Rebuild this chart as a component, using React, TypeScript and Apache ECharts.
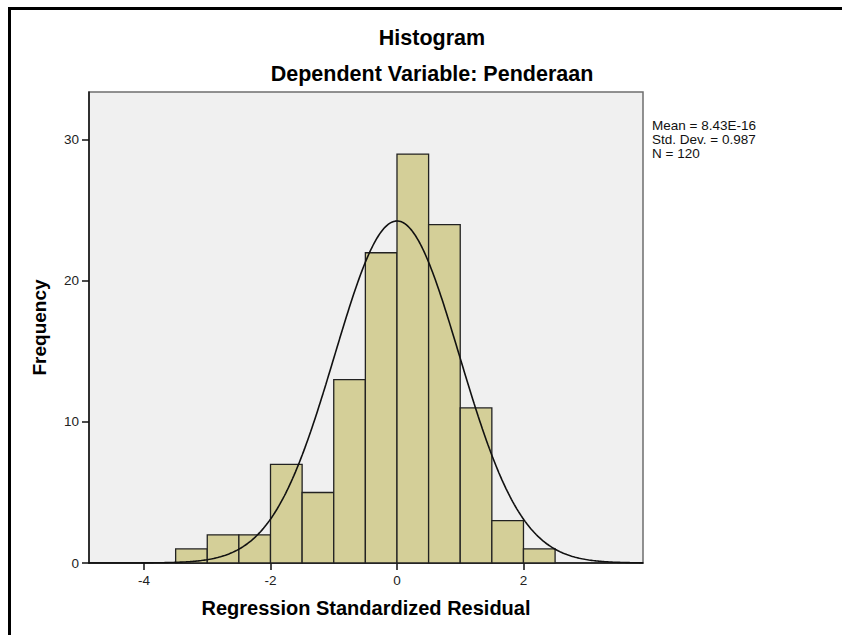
import React, { useEffect, useRef } from "react";
import * as echarts from "echarts";

const titleText = "Histogram";
const subtitleText = "Dependent Variable: Penderaan";
const xAxisName = "Regression Standardized Residual";
const yAxisName = "Frequency";

// histogram bins (lower edges) and counts
const binWidth = 0.5;
const binStarts = [-3.5, -3.0, -2.5, -2.0, -1.5, -1.0, -0.5, 0.0, 0.5, 1.0, 1.5, 2.0];
const frequencies = [1, 2, 2, 7, 5, 13, 22, 29, 24, 11, 3, 1];

// fitted normal statistics (as printed on the chart)
const meanValue = 8.43e-16;
const stdDev = 0.987;
const nCount = 120;
const statsLines = ["Mean = 8.43E-16", "Std. Dev. = 0.987", "N = 120"];

const xTicks = [-4, -2, 0, 2];
const yTicks = [0, 10, 20, 30];
const xMin = -4.87;
const xMax = 3.89;
const yMax = 33.4;

const FONT = "'Liberation Sans', Arial, sans-serif";

export default function App() {
  const ref = useRef<HTMLDivElement>(null);

  useEffect(() => {
    if (!ref.current) return;
    const chart = echarts.init(ref.current, null, { renderer: "svg" });

    const barData = binStarts.map((s, i) => [s, s + binWidth, frequencies[i]]);

    const curve: number[][] = [];
    const steps = 400;
    for (let i = 0; i <= steps; i++) {
      const x = xMin + ((xMax - xMin) * i) / steps;
      const z = (x - meanValue) / stdDev;
      const y = (nCount * binWidth * Math.exp(-0.5 * z * z)) / (stdDev * Math.sqrt(2 * Math.PI));
      curve.push([x, y]);
    }

    const statTexts = statsLines.map((line, i) => ({
      type: "text",
      left: 652,
      top: 118 + i * 14,
      style: {
        text: line,
        fontFamily: FONT,
        fontSize: 13.5,
        lineHeight: 14,
        fill: "#111",
      },
    }));

    chart.setOption({
      animation: false,
      backgroundColor: "#ffffff",
      textStyle: { fontFamily: FONT },
      title: [
        {
          text: titleText,
          left: 432,
          top: 27,
          textAlign: "center",
          padding: 0,
          textStyle: { fontFamily: FONT, fontSize: 21.5, fontWeight: "bold", color: "#000" },
        },
        {
          text: subtitleText,
          left: 432,
          top: 63,
          textAlign: "center",
          padding: 0,
          textStyle: { fontFamily: FONT, fontSize: 21.5, fontWeight: "bold", color: "#000" },
        },
      ],
      grid: {
        left: 89,
        top: 92,
        right: 199,
        bottom: 72,
        show: true,
        backgroundColor: "#f0f0f0",
        borderColor: "#6e6e6e",
        borderWidth: 1.5,
      },
      xAxis: {
        type: "value",
        min: xMin,
        max: xMax,
        name: xAxisName,
        nameLocation: "middle",
        nameGap: 35,
        nameTextStyle: { fontFamily: FONT, fontSize: 20, fontWeight: "bold", color: "#000" },
        splitLine: { show: false },
        axisLine: { show: true, onZero: false, lineStyle: { color: "#111", width: 1.5 } },
        axisTick: { show: true, length: 7, customValues: xTicks, lineStyle: { color: "#111", width: 1.5 } },
        axisLabel: { customValues: xTicks, fontFamily: FONT, fontSize: 13.5, color: "#222", margin: 10 },
      },
      yAxis: {
        type: "value",
        min: 0,
        max: yMax,
        name: yAxisName,
        nameLocation: "middle",
        nameGap: 40,
        nameRotate: 90,
        nameTextStyle: { fontFamily: FONT, fontSize: 19, fontWeight: "bold", color: "#000" },
        splitLine: { show: false },
        axisLine: { show: true, onZero: false, lineStyle: { color: "#111", width: 1.5 } },
        axisTick: { show: true, length: 7, customValues: yTicks, lineStyle: { color: "#111", width: 1.5 } },
        axisLabel: { customValues: yTicks, fontFamily: FONT, fontSize: 13.5, color: "#222", margin: 10 },
      },
      graphic: [
        {
          type: "rect",
          silent: true,
          shape: { x: 9.5, y: 8.5, width: 1000, height: 1000 },
          style: { fill: "none", stroke: "#000", lineWidth: 3 },
        },
        ...statTexts,
      ],
      series: [
        {
          type: "custom",
          name: "Frequency",
          data: barData,
          encode: { x: [0, 1], y: 2 },
          renderItem: (params: any, api: any) => {
            const p0 = api.coord([api.value(0), 0]);
            const p1 = api.coord([api.value(1), api.value(2)]);
            return {
              type: "rect",
              shape: { x: p0[0], y: p1[1], width: p1[0] - p0[0], height: p0[1] - p1[1] },
              style: { fill: "#d4cf98", stroke: "#222", lineWidth: 1.3 },
            };
          },
          z: 2,
        },
        {
          type: "line",
          name: "Normal",
          data: curve,
          showSymbol: false,
          symbol: "none",
          smooth: false,
          lineStyle: { color: "#111", width: 1.6 },
          z: 3,
        },
      ],
    });

    return () => chart.dispose();
  }, []);

  return (
    <div
      ref={ref}
      style={{ position: "fixed", left: 0, top: 0, width: 842, height: 635 }}
    />
  );
}
